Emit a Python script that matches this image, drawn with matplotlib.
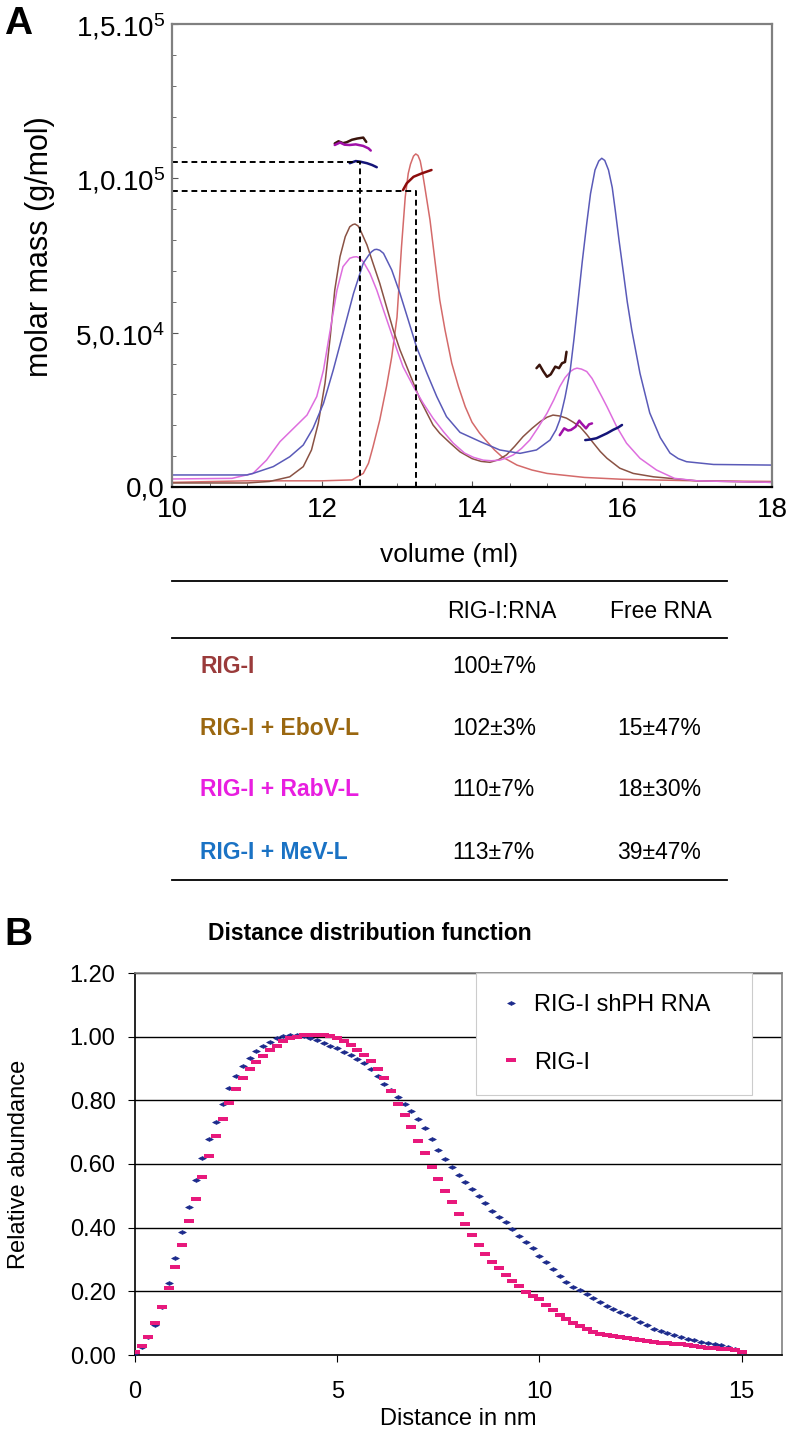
import numpy as np
import matplotlib
matplotlib.use("Agg")
import matplotlib.pyplot as plt
from matplotlib.lines import Line2D
from matplotlib.ticker import MultipleLocator, FixedLocator, FixedFormatter, FormatStrFormatter

plt.rcParams['font.family'] = ['Liberation Sans', 'DejaVu Sans']
plt.rcParams['mathtext.fontset'] = 'custom'
plt.rcParams['mathtext.rm'] = 'Liberation Sans'
plt.rcParams['mathtext.it'] = 'Liberation Sans:italic'
plt.rcParams['mathtext.bf'] = 'Liberation Sans:bold'

# ---------------- Panel A data (SEC-MALLS), signals in units of 1000 ----------------
rig_vol = [10.0, 11.0, 12.0, 12.4, 12.55, 12.62, 12.68, 12.77, 12.86, 12.93, 13.0, 13.06, 13.11, 13.15,
           13.18, 13.22, 13.25, 13.28, 13.31, 13.34, 13.37, 13.44, 13.51, 13.57, 13.64, 13.73, 13.82,
           13.91, 14.0, 14.1, 14.2, 14.3, 14.4, 14.6, 14.8, 15.0, 15.5, 16.0, 17.0, 18.0]
rig_sig = [1.5, 2.0, 2.0, 2.3, 4.4, 7.7, 13.0, 21.7, 32.5, 42.2, 55.0, 77.8, 94.0, 101.6,
           104.6, 107.2, 107.9, 107.4, 105.6, 101.8, 97.3, 86.5, 72.5, 60.6, 50.9, 40.1, 32.5,
           26.0, 21.0, 17.5, 14.7, 12.0, 9.8, 7.1, 5.5, 4.4, 3.1, 2.5, 2.0, 1.8]

ebo_vol = [10.0, 11.0, 11.3, 11.57, 11.75, 11.86, 11.95, 12.04, 12.11, 12.17, 12.24, 12.31, 12.37, 12.41,
           12.44, 12.48, 12.51, 12.6, 12.68, 12.77, 12.86, 12.95, 13.04, 13.13, 13.22, 13.31, 13.4, 13.48,
           13.57, 13.71, 13.84, 14.0, 14.12, 14.24, 14.35, 14.46, 14.57, 14.68, 14.8, 14.91, 15.0, 15.08,
           15.17, 15.26, 15.35, 15.44, 15.53, 15.62, 15.71, 15.8, 15.97, 16.15, 16.42, 17.0, 18.0]
ebo_sig = [1.3, 1.3, 1.8, 3.3, 6.6, 12.0, 20.6, 33.6, 48.7, 63.8, 74.6, 81.1, 84.3, 85.0,
           85.2, 84.6, 83.3, 78.4, 72.5, 66.0, 58.4, 50.9, 44.4, 39.0, 33.6, 28.2, 23.9, 20.1,
           17.4, 14.2, 11.4, 9.2, 8.3, 8.0, 8.8, 10.4, 13.2, 16.3, 19.0, 21.2, 22.6, 23.3,
           23.0, 22.3, 21.0, 19.5, 17.0, 14.2, 11.5, 9.3, 6.1, 4.4, 3.3, 2.0, 1.5]

rab_vol = [10.0, 10.8, 11.08, 11.26, 11.44, 11.62, 11.8, 11.93, 12.02, 12.11, 12.2, 12.28, 12.37, 12.42,
           12.46, 12.5, 12.55, 12.64, 12.73, 12.82, 12.91, 13.0, 13.08, 13.22, 13.35, 13.48, 13.62, 13.75,
           13.9, 14.02, 14.15, 14.26, 14.37, 14.46, 14.55, 14.66, 14.77, 14.88, 15.0, 15.09, 15.17, 15.24,
           15.31, 15.36, 15.4, 15.46, 15.53, 15.6, 15.66, 15.73, 15.8, 15.93, 16.06, 16.24, 16.46, 16.7,
           17.0, 18.0]
rab_sig = [2.6, 2.8, 4.4, 8.7, 14.7, 19.0, 23.3, 29.3, 37.9, 50.9, 63.8, 71.4, 74.1, 74.5,
           74.6, 74.2, 73.0, 69.2, 63.8, 57.3, 50.9, 44.4, 39.0, 32.5, 27.1, 22.3, 17.9, 14.2,
           11.0, 9.6, 8.7, 8.5, 8.7, 9.4, 10.4, 12.5, 15.2, 19.2, 23.9, 28.2, 32.5, 35.4,
           37.4, 38.2, 38.5, 38.2, 37.4, 35.2, 32.5, 29.3, 26.0, 19.5, 14.2, 9.3, 5.5, 2.8,
           2.0, 1.5]

mev_vol = [10.0, 11.0, 11.08, 11.35, 11.57, 11.75, 11.88, 12.02, 12.15, 12.28, 12.42, 12.55, 12.62, 12.66,
           12.70, 12.73, 12.77, 12.82, 12.93, 13.04, 13.15, 13.26, 13.4, 13.53, 13.66, 13.84, 14.11, 14.37,
           14.64, 14.86, 15.04, 15.12, 15.17, 15.24, 15.31, 15.36, 15.42, 15.47, 15.53, 15.58, 15.64, 15.69,
           15.73, 15.77, 15.82, 15.87, 15.91, 15.96, 16.02, 16.07, 16.13, 16.24, 16.37, 16.51, 16.64, 16.75,
           16.86, 17.22, 18.0]
mev_sig = [3.9, 3.9, 4.4, 6.6, 9.8, 13.6, 19.0, 27.1, 37.9, 49.8, 62.7, 72.5, 75.0, 76.2,
           76.9, 77.0, 76.7, 75.7, 70.3, 62.7, 54.1, 45.4, 36.8, 29.3, 22.8, 17.7, 14.7, 12.0,
           10.9, 12.0, 15.2, 18.5, 21.7, 29.0, 37.9, 48.0, 61.6, 73.0, 85.4, 95.0, 102.7, 105.6,
           106.5, 105.8, 102.7, 97.0, 89.7, 80.0, 69.2, 60.0, 50.9, 36.8, 24.0, 16.0, 11.0, 9.2,
           8.2, 7.3, 7.1]

# molar mass traces (x1000 g/mol)
ebo_mm1_vol = [12.17, 12.22, 12.28, 12.33, 12.40, 12.47, 12.55, 12.59]
ebo_mm1 = [111.3, 112.0, 111.4, 111.7, 112.5, 112.9, 113.2, 111.8]
rab_mm1_vol = [12.17, 12.24, 12.30, 12.37, 12.45, 12.55, 12.62, 12.65]
rab_mm1 = [110.8, 111.6, 110.9, 110.8, 111.0, 110.5, 109.7, 109.0]
mev_mm1_vol = [12.37, 12.45, 12.51, 12.6, 12.67, 12.73]
mev_mm1 = [104.9, 105.6, 105.4, 104.9, 104.3, 103.6]
rig_mm1_vol = [13.08, 13.13, 13.22, 13.33, 13.46]
rig_mm1 = [96.2, 98.4, 100.5, 101.6, 102.7]
ebo_mm2_vol = [14.86, 14.9, 14.95, 15.0, 15.05, 15.11, 15.16, 15.2, 15.24, 15.26]
ebo_mm2 = [38.5, 39.6, 37.5, 35.7, 36.5, 39.0, 38.5, 40.1, 40.5, 43.8]
rab_mm2_vol = [15.17, 15.23, 15.28, 15.32, 15.38, 15.43, 15.46, 15.52, 15.56, 15.6]
rab_mm2 = [16.8, 19.0, 18.3, 18.5, 19.5, 21.5, 20.6, 19.0, 20.3, 20.6]
mev_mm2_vol = [15.51, 15.58, 15.66, 15.73, 15.8, 15.88, 15.95, 16.0]
mev_mm2 = [15.2, 15.4, 15.8, 16.6, 17.4, 18.5, 19.3, 20.1]

ref_vol = [12.5, 13.25]
ref_mass = [105.4, 95.9]

ytick_vals = [0, 50e3, 100e3, 150e3]
ytick_labels = ["0,0", "5,0.10$^4$", "1,0.10$^5$", "1,5.10$^5$"]
xtick_vals = [10, 12, 14, 16, 18]

# ---------------- Table ----------------
table_cols = ["RIG-I:RNA", "Free RNA"]
table_rows = ["RIG-I", "RIG-I + EboV-L", "RIG-I + RabV-L", "RIG-I + MeV-L"]
table_complex = ["100±7%", "102±3%", "110±7%", "113±7%"]
table_free = ["", "15±47%", "18±30%", "39±47%"]
row_colors = ["#9a3b3b", "#9a6710", "#e81ee0", "#1a72c4"]

# ---------------- Panel B data ----------------
distance = np.round(np.arange(91) / 6.0, 3)
p_shph = [0.005, 0.025, 0.055, 0.095, 0.15, 0.225, 0.305, 0.385, 0.465, 0.55,
          0.62, 0.68, 0.733, 0.79, 0.84, 0.877, 0.908, 0.933, 0.954, 0.97,
          0.983, 0.995, 1.002, 1.005, 1.005, 1.002, 0.997, 0.989, 0.981, 0.972,
          0.963, 0.952, 0.942, 0.931, 0.916, 0.90, 0.875, 0.852, 0.833, 0.812,
          0.79, 0.765, 0.74, 0.713, 0.68, 0.645, 0.617, 0.59, 0.564, 0.542,
          0.52, 0.498, 0.476, 0.453, 0.434, 0.417, 0.397, 0.375, 0.356, 0.335,
          0.312, 0.291, 0.27, 0.247, 0.229, 0.214, 0.203, 0.192, 0.18, 0.167,
          0.155, 0.145, 0.135, 0.125, 0.115, 0.105, 0.094, 0.083, 0.075, 0.068,
          0.062, 0.057, 0.051, 0.046, 0.042, 0.039, 0.036, 0.031, 0.025, 0.02,
          0.009]
p_rig = [0.01, 0.028, 0.055, 0.10, 0.152, 0.21, 0.275, 0.345, 0.42, 0.49,
         0.56, 0.625, 0.688, 0.74, 0.792, 0.836, 0.87, 0.898, 0.921, 0.94,
         0.957, 0.972, 0.985, 0.995, 1.0, 1.005, 1.005, 1.005, 1.005, 1.002,
         0.995, 0.986, 0.974, 0.959, 0.942, 0.923, 0.90, 0.87, 0.83, 0.79,
         0.755, 0.715, 0.672, 0.635, 0.592, 0.553, 0.516, 0.48, 0.444, 0.412,
         0.378, 0.345, 0.317, 0.293, 0.272, 0.252, 0.232, 0.216, 0.197, 0.184,
         0.175, 0.158, 0.141, 0.127, 0.113, 0.10, 0.091, 0.082, 0.072, 0.066,
         0.062, 0.059, 0.056, 0.053, 0.051, 0.048, 0.044, 0.041, 0.039, 0.037,
         0.036, 0.033, 0.030, 0.027, 0.025, 0.023, 0.022, 0.020, 0.018, 0.015,
         0.010]

W, H = 786, 1433
fig = plt.figure(figsize=(W / 100, H / 100), dpi=100)

def px_axes(l, t, r, b):
    return fig.add_axes([l / W, 1 - b / H, (r - l) / W, (b - t) / H])

# ================= Panel A =================
axA = px_axes(172, 24, 772, 487)
c_rig, c_ebo, c_rab, c_mev = "#d46a6a", "#8a5244", "#de6ede", "#5a5ab8"
k = 1000.0
axA.plot(rig_vol, np.array(rig_sig) * k, color=c_rig, lw=1.1)
axA.plot(ebo_vol, np.array(ebo_sig) * k, color=c_ebo, lw=1.1)
axA.plot(rab_vol, np.array(rab_sig) * k, color=c_rab, lw=1.1)
axA.plot(mev_vol, np.array(mev_sig) * k, color=c_mev, lw=1.1)

mm_kw = dict(lw=1.8, solid_capstyle='round', solid_joinstyle='round')
axA.plot(ebo_mm1_vol, np.array(ebo_mm1) * k, color="#3a140c", **mm_kw)
axA.plot(rab_mm1_vol, np.array(rab_mm1) * k, color="#a010a8", **mm_kw)
axA.plot(mev_mm1_vol, np.array(mev_mm1) * k, color="#141478", **mm_kw)
axA.plot(rig_mm1_vol, np.array(rig_mm1) * k, color="#8c0c0c", **mm_kw)
axA.plot(ebo_mm2_vol, np.array(ebo_mm2) * k, color="#3a140c", **mm_kw)
axA.plot(rab_mm2_vol, np.array(rab_mm2) * k, color="#a010a8", **mm_kw)
axA.plot(mev_mm2_vol, np.array(mev_mm2) * k, color="#141478", **mm_kw)

for v, m in zip(ref_vol, ref_mass):
    axA.plot([10, v, v], [m * k, m * k, 0], color="black", lw=1.4, ls=(0, (3, 2)))

axA.set_xlim(10, 18)
axA.set_ylim(0, 150e3)
axA.yaxis.set_major_locator(FixedLocator(ytick_vals))
axA.yaxis.set_major_formatter(FixedFormatter(ytick_labels))
axA.yaxis.set_minor_locator(MultipleLocator(10e3))
axA.xaxis.set_major_locator(FixedLocator(xtick_vals))
axA.xaxis.set_minor_locator(MultipleLocator(0.5))
axA.tick_params(axis='both', which='both', direction='in', color="#555555")
axA.tick_params(axis='both', which='major', length=4, labelsize=20)
axA.tick_params(axis='both', which='minor', length=3)
axA.tick_params(axis='y', which='major', pad=5)
axA.tick_params(axis='x', which='major', pad=7)
for s in ['left', 'top', 'right']:
    axA.spines[s].set_color("#808080")
    axA.spines[s].set_linewidth(1.6)
axA.spines['bottom'].set_color("black")
axA.spines['bottom'].set_linewidth(1.6)
axA.set_ylabel("molar mass (g/mol)", fontsize=22)
axA.yaxis.set_label_coords(-0.195, 0.52)
axA.set_xlabel("volume (ml)", fontsize=19)
axA.xaxis.set_label_coords(0.462, -0.121)

# ================= Panel B =================
axB = px_axes(135, 973, 782, 1355)
diamond = [(-1, 0), (0, 0.5), (1, 0), (0, -0.5), (-1, 0)]
dash = [(-1, -0.45), (1, -0.45), (1, 0.45), (-1, 0.45), (-1, -0.45)]
axB.plot(distance, p_shph, ls='none', marker=diamond, ms=5.5, color="#1c2a8c",
         mec="#1c2a8c", mew=0.5, label="RIG-I shPH RNA", zorder=3)
axB.plot(distance, p_rig, ls='none', marker=dash, ms=7.0, color="#e8197c",
         mec="#e8197c", mew=0, label="RIG-I", zorder=4)
axB.set_xlim(0, 16)
axB.set_ylim(0, 1.2)
axB.yaxis.set_major_locator(MultipleLocator(0.2))
axB.yaxis.set_major_formatter(FormatStrFormatter('%.2f'))
axB.xaxis.set_major_locator(FixedLocator([0, 5, 10, 15]))
axB.grid(axis='y', color='black', lw=1.0)
axB.set_axisbelow(True)
axB.tick_params(axis='both', direction='out', length=5, labelsize=17, color='black')
axB.tick_params(axis='y', pad=9)
axB.tick_params(axis='x', pad=14)
axB.spines['left'].set_color('black')
axB.spines['bottom'].set_color('black')
axB.spines['top'].set_color('#808080')
axB.spines['right'].set_color('#808080')
for s in axB.spines.values():
    s.set_linewidth(1.2)
axB.set_ylabel("Relative abundance", fontsize=17)
axB.yaxis.set_label_coords(-0.163, 0.5)
axB.set_xlabel("Distance in nm", fontsize=17)
axB.xaxis.set_label_coords(0.5, -0.14)
leg = axB.legend(loc='upper left', bbox_to_anchor=(0.527, 0.670, 0.427, 0.330), mode='expand',
                 borderaxespad=0, fontsize=17, frameon=True, fancybox=False, borderpad=0.9,
                 labelspacing=1.5, handlelength=1.2, handletextpad=0.35, markerscale=1.0)
leg.get_frame().set_edgecolor('#cccccc')
leg.get_frame().set_linewidth(0.8)
leg.get_frame().set_facecolor('white')
leg.get_frame().set_alpha(1.0)

# ================= Overlay (labels + table) =================
ov = fig.add_axes([0, 0, 1, 1])
ov.set_xlim(0, W)
ov.set_ylim(H, 0)
ov.axis('off')
ov.patch.set_alpha(0)

ov.text(4, 6, "A", fontsize=28, fontweight='bold', va='top', ha='left')
ov.text(4, 917, "B", fontsize=28, fontweight='bold', va='top', ha='left')
ov.text(370, 933, "Distance distribution function", fontsize=16.5, fontweight='bold',
        ha='center', va='center')

for y in [581, 638, 880]:
    ov.add_line(Line2D([172, 727], [y, y], color='black', lw=1.3))
ov.text(447, 611, table_cols[0], fontsize=16.5, ha='left', va='center')
ov.text(610, 611, table_cols[1], fontsize=16.5, ha='left', va='center')
row_y = [666, 728, 789, 852]
for name, c1, c2, col, y in zip(table_rows, table_complex, table_free, row_colors, row_y):
    ov.text(200, y, name, fontsize=16.5, fontweight='bold', color=col, ha='left', va='center')
    ov.text(452, y, c1, fontsize=16.5, ha='left', va='center')
    if c2:
        ov.text(617, y, c2, fontsize=16.5, ha='left', va='center')

fig.savefig("out.png", dpi=100)
